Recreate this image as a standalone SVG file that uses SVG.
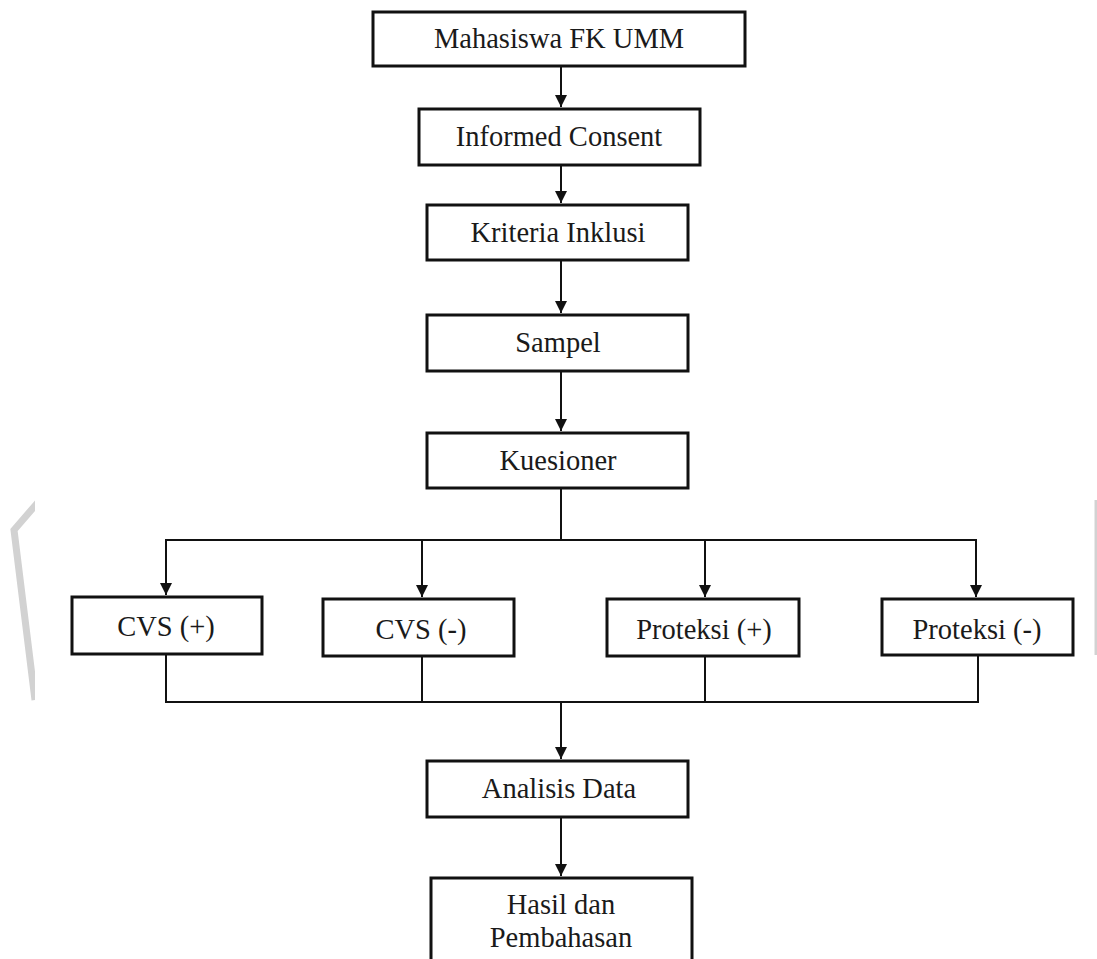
<svg xmlns="http://www.w3.org/2000/svg" width="1097" height="959" viewBox="0 0 1097 959">
<style>
.box{fill:#fff;stroke:#111;stroke-width:3}
.lbl{font-family:"Liberation Serif","Times New Roman",serif;font-size:28.5px;fill:#1a1a1a;text-anchor:middle}
.con{fill:none;stroke:#111;stroke-width:2}
.wm{fill:none;stroke:#d2d2d2}
</style>
<defs>
<marker id="ah" viewBox="0 0 12 12" refX="12" refY="6" markerWidth="12" markerHeight="12" markerUnits="userSpaceOnUse" orient="auto">
<path d="M0,0 L12,6 L0,12 z" fill="#111"/>
</marker>
<clipPath id="wmclip"><rect x="0" y="0" width="35" height="959"/></clipPath>
</defs>
<rect width="1097" height="959" fill="#fff"/>
<g id="watermark">
<polyline class="wm" stroke-width="7" clip-path="url(#wmclip)" points="40,500 14,530 35,700"/>
<line class="wm" stroke-width="3" x1="1096" y1="500" x2="1096" y2="655"/>
</g>
<g id="connectors">
<line class="con" x1="561" y1="67" x2="561" y2="107" marker-end="url(#ah)"/>
<line class="con" x1="561" y1="166" x2="561" y2="203" marker-end="url(#ah)"/>
<line class="con" x1="561" y1="261" x2="561" y2="313" marker-end="url(#ah)"/>
<line class="con" x1="561" y1="372" x2="561" y2="431" marker-end="url(#ah)"/>
<line class="con" x1="561" y1="489" x2="561" y2="540"/>
<line class="con" x1="165" y1="540" x2="977" y2="540"/>
<line class="con" x1="166" y1="540" x2="166" y2="595" marker-end="url(#ah)"/>
<line class="con" x1="422" y1="540" x2="422" y2="597" marker-end="url(#ah)"/>
<line class="con" x1="705" y1="540" x2="705" y2="597" marker-end="url(#ah)"/>
<line class="con" x1="976" y1="540" x2="976" y2="597" marker-end="url(#ah)"/>
<line class="con" x1="166" y1="655" x2="166" y2="702"/>
<line class="con" x1="422" y1="657" x2="422" y2="702"/>
<line class="con" x1="705" y1="657" x2="705" y2="702"/>
<line class="con" x1="978" y1="656" x2="978" y2="702"/>
<line class="con" x1="165" y1="702" x2="979" y2="702"/>
<line class="con" x1="561" y1="702" x2="561" y2="759" marker-end="url(#ah)"/>
<line class="con" x1="561" y1="818" x2="561" y2="876" marker-end="url(#ah)"/>
</g>
<g id="n1"><rect class="box" x="373" y="12" width="372" height="54"/><text class="lbl" x="559" y="48">Mahasiswa FK UMM</text></g>
<g id="n2"><rect class="box" x="419" y="109" width="281" height="56"/><text class="lbl" x="559" y="146">Informed Consent</text></g>
<g id="n3"><rect class="box" x="427" y="205" width="261" height="55"/><text class="lbl" x="558" y="242">Kriteria Inklusi</text></g>
<g id="n4"><rect class="box" x="427" y="315" width="261" height="56"/><text class="lbl" x="558" y="352">Sampel</text></g>
<g id="n5"><rect class="box" x="427" y="433" width="261" height="55"/><text class="lbl" x="558" y="470">Kuesioner</text></g>
<g id="n6"><rect class="box" x="72" y="597" width="190" height="57"/><text class="lbl" x="166" y="636">CVS (+)</text></g>
<g id="n7"><rect class="box" x="323" y="599" width="191" height="57"/><text class="lbl" x="421" y="639">CVS (-)</text></g>
<g id="n8"><rect class="box" x="607" y="599" width="192" height="57"/><text class="lbl" x="704" y="639">Proteksi (+)</text></g>
<g id="n9"><rect class="box" x="882" y="599" width="191" height="56"/><text class="lbl" x="977" y="639">Proteksi (-)</text></g>
<g id="n10"><rect class="box" x="427" y="761" width="261" height="56"/><text class="lbl" x="559" y="798">Analisis Data</text></g>
<g id="n11"><rect class="box" x="431" y="878" width="261" height="100"/><text class="lbl" x="561" y="914">Hasil dan</text><text class="lbl" x="561" y="947">Pembahasan</text></g>
</svg>
